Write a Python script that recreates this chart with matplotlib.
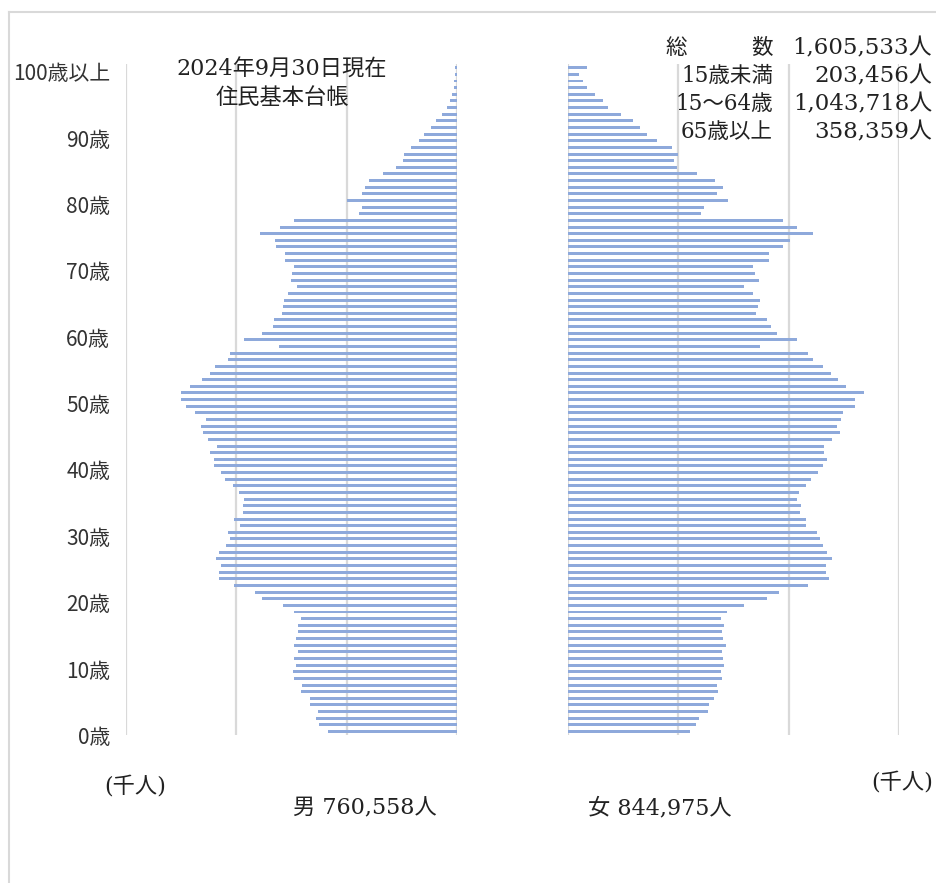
import matplotlib
matplotlib.use("Agg")
import matplotlib.pyplot as plt
import matplotlib.transforms as mtransforms
from matplotlib.lines import Line2D

plt.rcParams['font.family'] = ['Noto Sans CJK JP', 'DejaVu Sans']

# 年齢 0..100(100歳以上) 千人
ages = list(range(101))
male = [5.85, 6.26, 6.38, 6.32, 6.66, 6.66, 7.07, 7.03, 7.37, 7.43,
        7.31, 7.37, 7.19, 7.37, 7.31, 7.19, 7.19, 7.07, 7.37, 7.89,
        8.82, 9.17, 10.09, 10.80, 10.80, 10.70, 10.91, 10.80, 10.46, 10.27,
        10.38, 9.82, 10.09, 9.70, 9.70, 9.64, 9.88, 10.17, 10.52, 10.70,
        10.99, 11.03, 11.21, 10.86, 11.27, 11.51, 11.62, 11.38, 11.86, 12.27,
        12.50, 12.50, 12.09, 11.56, 11.21, 10.95, 10.40, 10.27, 8.07, 9.63,
        8.82, 8.36, 8.31, 7.95, 7.89, 7.84, 7.66, 7.25, 7.54, 7.48,
        7.39, 7.78, 7.78, 8.19, 8.25, 8.95, 8.04, 7.37, 4.46, 4.31,
        4.99, 4.31, 4.19, 4.00, 3.37, 2.78, 2.45, 2.39, 2.09, 1.74,
        1.51, 1.16, 0.94, 0.68, 0.45, 0.33, 0.23, 0.15, 0.12, 0.08, 0.10]
female = [5.52, 5.80, 5.92, 6.33, 6.39, 6.62, 6.80, 6.74, 6.98, 6.92,
          7.09, 7.03, 6.98, 7.15, 7.03, 6.98, 7.09, 6.92, 7.21, 7.96,
          9.01, 9.58, 10.86, 11.85, 11.68, 11.68, 11.97, 11.73, 11.56, 11.44,
          11.27, 10.80, 10.80, 10.52, 10.58, 10.40, 10.46, 10.80, 11.03, 11.33,
          11.56, 11.73, 11.62, 11.62, 11.97, 12.32, 12.19, 12.38, 12.44, 13.01,
          13.01, 13.42, 12.60, 12.25, 11.91, 11.56, 11.09, 10.86, 8.72, 10.40,
          9.47, 9.19, 9.01, 8.54, 8.60, 8.72, 8.37, 7.96, 8.66, 8.48,
          8.37, 9.13, 9.13, 9.76, 10.06, 11.09, 10.40, 9.75, 6.04, 6.15,
          7.27, 6.74, 7.03, 6.68, 5.86, 4.93, 4.82, 4.99, 4.70, 4.02,
          3.60, 3.26, 2.96, 2.39, 1.80, 1.57, 1.21, 0.88, 0.70, 0.51, 0.85]

age_ticks = [0, 10, 20, 30, 40, 50, 60, 70, 80, 90, 100]
age_labels = ['0歳', '10歳', '20歳', '30歳', '40歳', '50歳', '60歳', '70歳', '80歳', '90歳', '100歳以上']

summary_labels = ['総　　　数', '15歳未満', '15～64歳', '65歳以上']
summary_values = ['1,605,533人', '203,456人', '1,043,718人', '358,359人']
male_total = '男 760,558人'
female_total = '女 844,975人'

W, H = 936, 883
fig = plt.figure(figsize=(W / 100, H / 100), dpi=100)


def px(x, y):
    return x / W, 1 - y / H


bar_color = '#8EA9DB'
grid_color = '#D9D9D9'
ax_bottom = 1 - 734.8 / H
ax_h = 670.4 / H

ax_m = fig.add_axes([126 / W, ax_bottom, 331 / W, ax_h])
ax_f = fig.add_axes([568 / W, ax_bottom, 331 / W, ax_h])

ax_m.barh(ages, male, height=0.45, color=bar_color, zorder=3)
ax_f.barh(ages, female, height=0.45, color=bar_color, zorder=3)

for ax in (ax_m, ax_f):
    ax.set_ylim(-0.5, 100.5)
    ax.set_xticks([0, 5, 10, 15])
    ax.set_xticklabels([])
    ax.grid(axis='x', color=grid_color, linewidth=1.6)
    ax.set_axisbelow(True)
    for s in ax.spines.values():
        s.set_visible(False)
    ax.tick_params(length=0)

ax_m.set_xlim(15, 0)
ax_f.set_xlim(0, 15)
ax_f.set_yticks([])

ax_m.set_yticks(age_ticks)
ax_m.set_yticklabels(age_labels, fontsize=15, color='#333333')
ax_m.tick_params(axis='y', pad=11.5)
shift = mtransforms.ScaledTranslation(0, -4 / 100, fig.dpi_scale_trans)
for lab in ax_m.get_yticklabels():
    lab.set_transform(lab.get_transform() + shift)

txt_font = ['DejaVu Serif', 'Noto Sans CJK JP']
tc = '#222222'

fig.text(*px(282, 70), '2024年9月30日現在', ha='center', va='center',
         fontsize=16, family=txt_font, color=tc)
fig.text(*px(282, 98), '住民基本台帳', ha='center', va='center',
         fontsize=16, family=txt_font, color=tc)

for i, (lab, val) in enumerate(zip(summary_labels, summary_values)):
    y = 48 + i * 28
    fig.text(*px(773, y), lab, ha='right', va='center', fontsize=15.5,
             family=txt_font, color=tc)
    fig.text(*px(932, y), val, ha='right', va='center', fontsize=16.5,
             family=txt_font, color=tc)

fig.text(*px(135, 787), '(千人)', ha='center', va='center', fontsize=16,
         family=txt_font, color=tc)
fig.text(*px(871, 783), '(千人)', ha='left', va='center', fontsize=16,
         family=txt_font, color=tc)
fig.text(*px(365, 808), male_total, ha='center', va='center', fontsize=16,
         family=txt_font, color=tc)
fig.text(*px(660, 808), female_total, ha='center', va='center', fontsize=16,
         family=txt_font, color=tc)

# 外枠
fig.add_artist(Line2D([9 / W, 1], [1 - 12 / H, 1 - 12 / H], color=grid_color,
                      linewidth=1.5, transform=fig.transFigure))
fig.add_artist(Line2D([9 / W, 9 / W], [0, 1 - 12 / H], color=grid_color,
                      linewidth=1.5, transform=fig.transFigure))

fig.savefig('out.png', dpi=100)
